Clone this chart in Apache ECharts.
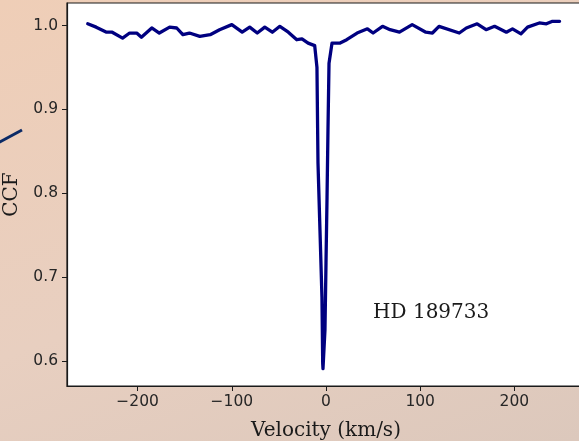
<!DOCTYPE html>
<html>
<head>
<meta charset="utf-8">
<script src="https://cdn.jsdelivr.net/npm/echarts@6/dist/echarts.min.js"></script>
<style>
  html, body { margin: 0; padding: 0; width: 579px; height: 441px; overflow: hidden; }
  body { background: linear-gradient(160deg, #efceb7 0%, #e8cfc0 55%, #dcc8bc 100%); }
  #chart { width: 600px; height: 441px; }
</style>
</head>
<body>
<div id="chart"></div>
<script>
// Cross-correlation function of HD 189733 against radial velocity
const velocity = [
  -253, -244, -233, -227, -216, -208.5, -201, -196, -185, -177, -166, -158.5, -152, -145, -134,
  -123, -113, -100, -89, -81, -73, -65, -57, -49, -40, -31, -25.5, -19, -12,
  -9.6, -8.5, -6.4, -4.3, -3.5, -3.2, -1.1, 0, 1.1, 2.1, 3.2, 6.4,
  15, 22, 33, 44, 50, 60, 68, 78, 91.5, 106, 113, 120, 141.5, 149, 160.5, 170, 179,
  191.5, 198, 207, 214, 226.5, 234, 240.5, 248
];
const ccf = [
  1.002, 0.998, 0.992, 0.992, 0.985, 0.991, 0.991, 0.986, 0.997, 0.991, 0.998, 0.997, 0.989, 0.991, 0.987,
  0.989, 0.995, 1.001, 0.992, 0.998, 0.991, 0.998, 0.992, 0.999, 0.992, 0.983, 0.984, 0.979, 0.976,
  0.950, 0.836, 0.756, 0.676, 0.597, 0.591, 0.637, 0.717, 0.795, 0.875, 0.955, 0.979,
  0.979, 0.983, 0.991, 0.996, 0.991, 0.999, 0.995, 0.992, 1.001, 0.992, 0.991, 0.999, 0.991, 0.997, 1.002, 0.995, 0.999,
  0.992, 0.996, 0.990, 0.998, 1.003, 1.002, 1.005, 1.005
];
const xTicks = [-200, -100, 0, 100, 200];
const yTicks = [0.6, 0.7, 0.8, 0.9, 1.0];
const starName = 'HD 189733';
const labelPos = [50, 0.657];

const chart = echarts.init(document.getElementById('chart'), null, { renderer: 'canvas' });
const fmtMinus = v => (v < 0 ? '\u2212' + Math.abs(v) : String(v));

chart.setOption({
  backgroundColor: 'transparent',
  animation: false,
  grid: {
    left: 67, top: 3, width: 518, bottom: 55,
    containLabel: false, outerBoundsMode: 'none',
    show: true, backgroundColor: '#ffffff', borderColor: '#1a1a1a', borderWidth: 1.2
  },
  xAxis: {
    type: 'value', min: -275, max: 275,
    name: 'Velocity (km/s)', nameLocation: 'middle', nameGap: 35,
    nameTextStyle: { fontFamily: 'DejaVu Serif', fontSize: 20, color: '#1a1a1a' },
    axisLine: { show: true, onZero: false, lineStyle: { color: '#1a1a1a', width: 1.2 } },
    axisTick: { show: true, customValues: xTicks, length: 5, lineStyle: { color: '#1a1a1a' } },
    axisLabel: { customValues: xTicks, formatter: fmtMinus, margin: 8,
      fontFamily: 'DejaVu Sans', fontSize: 15.5, color: '#262626' },
    splitLine: { show: false }
  },
  yAxis: {
    type: 'value', min: 0.5702, max: 1.0268,
    name: 'CCF', nameLocation: 'middle', nameGap: 45,
    nameTextStyle: { fontFamily: 'DejaVu Serif', fontSize: 20, color: '#1a1a1a' },
    axisLine: { show: true, onZero: false, lineStyle: { color: '#1a1a1a', width: 1.2 } },
    axisTick: { show: true, customValues: yTicks, length: 5, lineStyle: { color: '#1a1a1a' } },
    axisLabel: { customValues: yTicks, formatter: v => v.toFixed(1), margin: 9,
      fontFamily: 'DejaVu Sans', fontSize: 15.5, color: '#262626' },
    splitLine: { show: false }
  },
  series: [{
    type: 'line',
    data: velocity.map((v, i) => [v, ccf[i]]),
    showSymbol: false,
    smooth: false,
    lineStyle: { color: '#000080', width: 3.3, join: 'round', cap: 'round' }
  }]
});

// Star label placed in data coordinates
const p = chart.convertToPixel({ gridIndex: 0 }, labelPos);
chart.setOption({
  graphic: [
    {
      type: 'text', x: p[0], y: p[1],
      style: { text: starName, fontFamily: 'DejaVu Serif', fontSize: 20, fill: '#1a1a1a',
        textAlign: 'left', textVerticalAlign: 'middle' }
    },
    {
      type: 'line', silent: true,
      shape: { x1: -2, y1: 143, x2: 22, y2: 130 },
      style: { stroke: '#0b2a66', lineWidth: 3 }
    }
  ]
});
</script>
</body>
</html>
